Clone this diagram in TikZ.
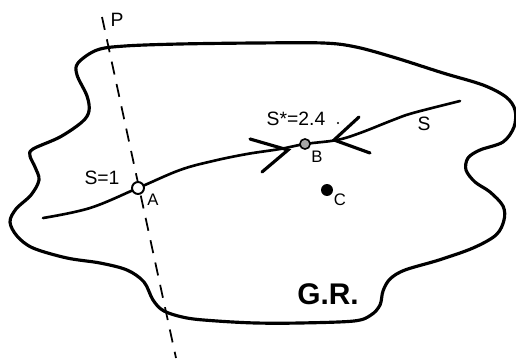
\documentclass[tikz,border=0pt]{standalone}
\usepackage{fontspec}
\setmainfont{Liberation Sans}
\begin{document}
\begin{tikzpicture}[x=0.02cm,y=-0.02cm,
  outline/.style={line width=1.8pt, line join=round},
  traj/.style={line width=1.5pt, line cap=round},
  barb/.style={line width=1.8pt, line cap=round},
  plane/.style={line width=1.0pt, dash pattern=on 7.5pt off 5.5pt},
  lbl/.style={font=\fontsize{11}{13}\selectfont, inner sep=0pt},
  ptlbl/.style={font=\fontsize{9.5}{11}\selectfont, inner sep=0pt}]
\useasboundingbox (0,0) rectangle (516,358);
% G.R. region outline
\draw[outline] plot[smooth cycle, tension=0.55] coordinates {
 (78,63) (97,50) (125,46) (180,44) (256,43) (323,43) (356,47) (396,58) (443,73)
 (483,85) (506,97) (515,110) (514,127) (503,142) (480,150) (468,158) (466,170)
 (475,182) (490,192) (503,206) (504,220) (496,235) (473,248) (439,260) (405,270)
 (390,279) (383,291) (380,305) (371,315) (354,321) (300,323) (256,323) (217,321)
 (187,318) (164,311) (153,300) (144,282) (127,270) (100,263) (67,258) (33,248)
 (17,236) (10,222) (16,209) (31,195) (39,180) (35,167) (30,156) (33,149) (60,137)
 (82,122) (89,111) (87,96) (77,75)};
% plane P (dashed)
\coordinate (ptop) at (102,17);
\coordinate (pbot) at (176,358);
\draw[plane] (ptop) -- (pbot);
\node[lbl] (P) at (117,20) {P};
% trajectory S
\coordinate (s0) at (43,218);
\coordinate (A) at (138,188);
\coordinate (B) at (305,144);
\coordinate (s1) at (460,101);
\draw[traj] plot[smooth, tension=0.6] coordinates {
 (43,218) (90,208) (138,188) (180,170) (213,161) (247,154) (280,149) (305,144)
 (337,140) (360,133) (393,120) (413,113) (460,101)};
% arrowheads (open V) pointing to B
\coordinate (t1) at (288,150);
\coordinate (t1a) at (250,139);
\coordinate (t1b) at (262,172);
\draw[barb] (t1a) -- (t1) -- (t1b);
\coordinate (t2) at (334,140);
\coordinate (t2a) at (359,117);
\coordinate (t2b) at (370,153);
\draw[barb] (t2a) -- (t2) -- (t2b);
% points
\draw[line width=1.1pt, fill=white] (A) circle[radius=3.4pt];
\draw[line width=0.9pt, fill=gray!70] (B) circle[radius=2.9pt];
\fill (327,190) coordinate (C) circle[radius=3.4pt];
% labels
\node[lbl] (s1lbl) at (102,178) {S=1};
\node[ptlbl] (Albl) at (153,200) {A};
\node[lbl] (slbl) at (296,119) {S*=2.4};
\fill (338,123) coordinate (dot) circle[radius=0.7pt];
\node[ptlbl] (Blbl) at (317,157) {B};
\node[ptlbl] (Clbl) at (340,200) {C};
\node[lbl] (Slbl) at (424,124) {S};
\node[font=\fontsize{17}{20}\selectfont\bfseries, inner sep=0pt] (GR) at (328,294) {G.R.};
\end{tikzpicture}
\end{document}
